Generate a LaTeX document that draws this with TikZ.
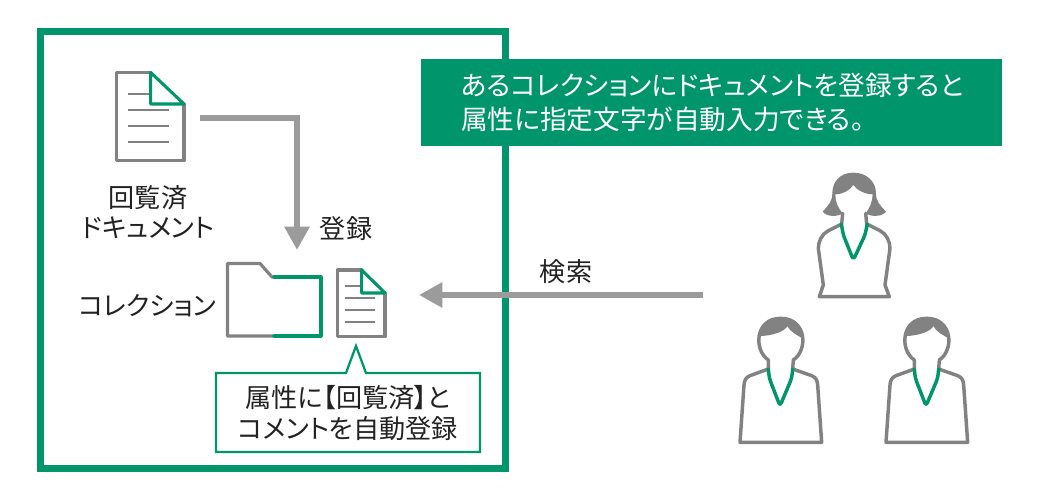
\documentclass[tikz,border=0pt]{standalone}
\usepackage{fontspec}
\setmainfont{Noto Sans CJK JP}[RawFeature=+palt]
\usetikzlibrary{arrows.meta}
\definecolor{grn}{HTML}{00956B}
\definecolor{gry}{HTML}{828282}
\definecolor{arr}{HTML}{9B9B9B}
\definecolor{txt}{HTML}{222222}
\tikzset{
  gline/.style={draw=gry,line width=2.4pt,line join=round,line cap=round},
  gthin/.style={draw=gry,line width=2.2pt},
  vline/.style={draw=grn,line width=2.3pt,line join=round,line cap=round},
  flow/.style={draw=arr,line width=4.9pt,-{Triangle[length=17.5pt,width=18pt]}},
  lbl/.style={text=txt,font=\fontsize{19.6pt}{23pt}\selectfont,align=center,inner sep=0pt},
  ban/.style={text=white,font=\fontsize{20pt}{25.5pt}\selectfont,align=left,inner sep=0pt},
  pgline/.style={draw=gry,line width=2.6pt,line join=round,line cap=round},
  pvline/.style={draw=grn,line width=2.6pt,line join=round,line cap=round,rounded corners=2.5pt}
}
\begin{document}
\begin{tikzpicture}[x=0.75pt,y=-0.75pt]
\useasboundingbox (0,0) rectangle (1040,498);
% frame
\node[draw=grn,line width=5.2pt,minimum width=348.5pt,minimum height=328pt,inner sep=0pt,anchor=north west] (frame) at (37,28) {};
% banner
\node[fill=grn,minimum width=435.75pt,minimum height=65.25pt,inner sep=0pt,anchor=north west] (banner) at (421,59) {};
\node[ban,anchor=west] (bantext) at (461,102.5) {あるコレクションにドキュメントを登録すると\\属性に指定文字が自動入力できる。};
% doc 1
\draw[gline] (150.7,72.5) -- (116.5,72.5) -- (116.5,160.5) -- (184,160.5) -- (184,104);
\foreach \y/\xa/\xb in {94/128/150,110/128/169,126/128/169,142/128/169}
  \draw[gthin] (\xa,\y) -- (\xb,\y);
\draw[vline] (150.7,72.5) -- (150.7,104) -- (184,104) -- cycle;
\coordinate (doca) at (200,118);
% doc 2
\draw[gline] (361.7,270) -- (337.5,270) -- (337.5,336.5) -- (385,336.5) -- (385,293);
\foreach \y/\xa/\xb in {286/345/361,298/345/375,310/345/375,322/345/375}
  \draw[gthin] (\xa,\y) -- (\xb,\y);
\draw[vline] (361.7,270) -- (361.7,293) -- (385,293) -- cycle;
% folder
\draw[gline] (274,277) -- (272,277) -- (260,263.5) -- (227.5,263.5) -- (227.5,336) -- (274,336);
\draw[vline] (274,277) -- (321,277) -- (321,336) -- (274,336);
% arrows
\coordinate (elbow) at (297,118);
\coordinate (regin) at (297,250);
\draw[flow] (doca) -- (elbow) -- (regin);
\coordinate (search) at (703,295);
\coordinate (doctarget) at (419,295);
\draw[flow] (search) -- (doctarget);
% callout
\draw[draw=grn,line width=1.7pt,line join=miter,fill=white] (216,373) -- (346,373) -- (356,346) -- (366,373) -- (480,373) -- (480,452) -- (216,452) -- cycle;
% labels
\node[lbl] (l1) at (148,212) {回覧済\\ドキュメント};
\node[lbl] (l2) at (346,229) {登録};
\node[lbl] (l3) at (147.5,306) {コレクション};
\node[lbl] (l4) at (566,272) {検索};
\node[lbl] (l5) at (348,413) {属性に【回覧済】と\\コメントを自動登録};
% woman
\begin{scope}[shift={(800,160)},x=0.25pt,y=-0.25pt]
\fill[gry] (160,38) .. controls (120,38) and (97,65) .. (97,100) .. controls (97,125) and (85,135) .. (68,155) .. controls (80,172) and (115,170) .. (128,160) .. controls (115,145) and (105,125) .. (106,103) .. controls (130,103) and (150,90) .. (160,75) .. controls (170,90) and (195,103) .. (218,103) .. controls (218,125) and (208,145) .. (197,160) .. controls (210,170) and (245,172) .. (258,155) .. controls (240,135) and (228,125) .. (228,100) .. controls (228,65) and (200,38) .. (160,38) -- cycle;
\draw[pgline] (128,160) -- (125,192) -- (85,212) .. controls (65,222) and (55,245) .. (55,265) -- (70,375) -- (58,410) -- (268,410) -- (255,375) -- (270,265) .. controls (270,245) and (260,222) .. (240,212) -- (200,192) -- (197,160);
\draw[pvline] (124,192) -- (130,225) -- (160,300) -- (195,225) -- (202,192);
\end{scope}
% man 1
\begin{scope}[shift={(730,310)},x=0.25pt,y=-0.25pt]
\draw[pgline] (115,150) .. controls (70,120) and (75,25) .. (152,25) .. controls (230,25) and (235,120) .. (190,150) -- (188,177) -- (245,197) .. controls (258,202) and (262,212) .. (263,225) -- (275,397) -- (30,397) -- (42,225) .. controls (43,212) and (47,202) .. (60,197) -- (115,177) -- cycle;
\fill[gry] (88,85) .. controls (88,45) and (115,22) .. (152,22) .. controls (190,22) and (218,45) .. (218,85) .. controls (200,75) and (180,65) .. (172,48) .. controls (165,65) and (125,78) .. (88,78) -- cycle;
\draw[pvline] (115,177) -- (118,205) -- (150,288) -- (185,205) -- (188,177);
\end{scope}
% man 2
\begin{scope}[shift={(876,310)},x=0.25pt,y=-0.25pt]
\draw[pgline] (115,150) .. controls (70,120) and (75,25) .. (152,25) .. controls (230,25) and (235,120) .. (190,150) -- (188,177) -- (245,197) .. controls (258,202) and (262,212) .. (263,225) -- (275,397) -- (30,397) -- (42,225) .. controls (43,212) and (47,202) .. (60,197) -- (115,177) -- cycle;
\fill[gry] (88,85) .. controls (88,45) and (115,22) .. (152,22) .. controls (190,22) and (218,45) .. (218,85) .. controls (200,75) and (180,65) .. (172,48) .. controls (165,65) and (125,78) .. (88,78) -- cycle;
\draw[pvline] (115,177) -- (118,205) -- (150,288) -- (185,205) -- (188,177);
\end{scope}
\end{tikzpicture}
\end{document}
